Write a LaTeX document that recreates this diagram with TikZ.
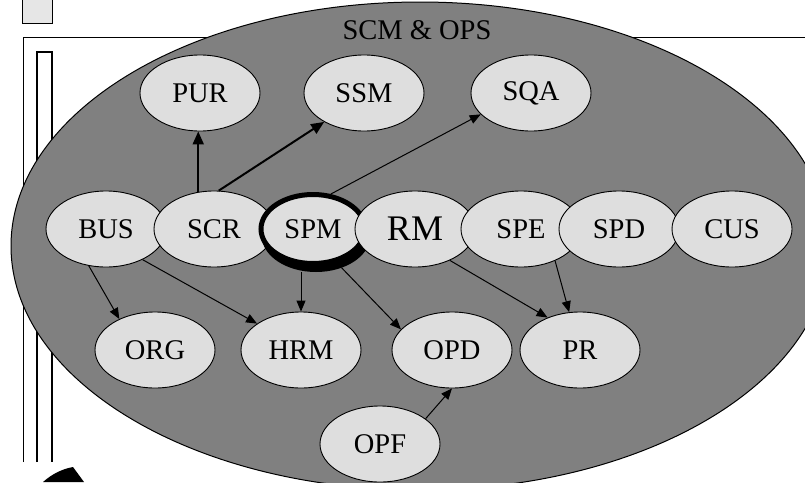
\documentclass[tikz,border=0pt]{standalone}
\usepackage{fontspec}
\setmainfont{Liberation Serif}
\usetikzlibrary{shapes.geometric,arrows.meta}
\definecolor{bigfill}{HTML}{808080}
\definecolor{nodefill}{HTML}{DEDEDE}
\definecolor{sqfill}{HTML}{E6E6E6}
\begin{document}
\begin{tikzpicture}[x=1pt,y=-1pt,
  ov/.style={ellipse, draw=black, line width=0.9pt, fill=nodefill, minimum width=120pt, minimum height=76pt, inner sep=0pt, font=\fontsize{28.5}{30}\selectfont},
  spmbox/.style={ellipse, draw=black, line width=5pt, fill=nodefill, minimum width=104pt, minimum height=69pt, inner sep=0pt, font=\fontsize{28.5}{30}\selectfont},
  spmshadow/.style={ellipse, draw=black, line width=5pt, fill=black, minimum width=104pt, minimum height=69pt, inner sep=0pt},
  arr/.style={line width=1pt, -{Triangle[length=11pt,width=9pt]}},
  arrthick/.style={line width=2pt, -{Triangle[length=13pt,width=11pt]}},
  frame/.style={draw=black, line width=1pt},
  framethick/.style={draw=black, line width=1.5pt}]
\useasboundingbox (0,0) rectangle (805,482);
\clip (0,0) rectangle (805,482);
% small square
\path[frame, fill=sqfill] (22,-5) rectangle (52,23);
% large frame
\path[frame] (23,462) -- (23,37) -- (815,37);
\path[framethick] (37,462) -- (37,52) -- (52,52) -- (52,462);
% big ellipse
\path[draw=black, line width=1pt, fill=bigfill] (420,246) ellipse [x radius=409, y radius=244];
\node[font=\fontsize{28.5}{30}\selectfont] (title) at (417,30) {SCM \& OPS};
% crescent
\fill[black] (43,482) .. controls (52,474) and (62,469) .. (73,467) -- (84,482) -- cycle;
% nodes
\node[ov] (pur) at (200,93) {PUR};
\node[ov] (ssm) at (364,93) {SSM};
\node[ov] (sqa) at (531,93) {SQA};
\node[ov] (bus) at (106,229) {BUS};
\node[ov] (scr) at (214,229) {SCR};
\node[spmshadow] (spmsh) at (316,235) {};
\node[spmbox] (spm) at (313,229) {SPM};
\node[ov, font=\fontsize{36}{38}\selectfont] (rm) at (415,229) {RM};
\node[ov] (spe) at (521,229) {SPE};
\node[ov] (spd) at (619,229) {SPD};
\node[ov] (cus) at (732,229) {CUS};
\node[ov] (org) at (155,350) {ORG};
\node[ov] (hrm) at (301,350) {HRM};
\node[ov] (opd) at (452,350) {OPD};
\node[ov] (pr) at (580,350) {PR};
\node[ov] (opf) at (380,444) {OPF};
% connectors
\draw[arrthick] (scr.113) -- (scr.113 |- pur.south);
\draw[arrthick] (scr.83) -- (ssm.216);
\draw[arr] (spm.63) -- (sqa.203);
\draw[arr] (bus.245) -- (org.139);
\draw[arr] (bus.320) -- (hrm.149);
\draw[arr] (hrm.north |- spmsh.south) -- (hrm.north);
\draw[arr] (spmsh.-52) -- (opd.158);
\draw[arr] (rm.-42) -- (pr.135);
\draw[arr] (spe.-43) -- (pr.106);
\draw[arr] (opf.29) -- (opd.south);
\end{tikzpicture}
\end{document}
